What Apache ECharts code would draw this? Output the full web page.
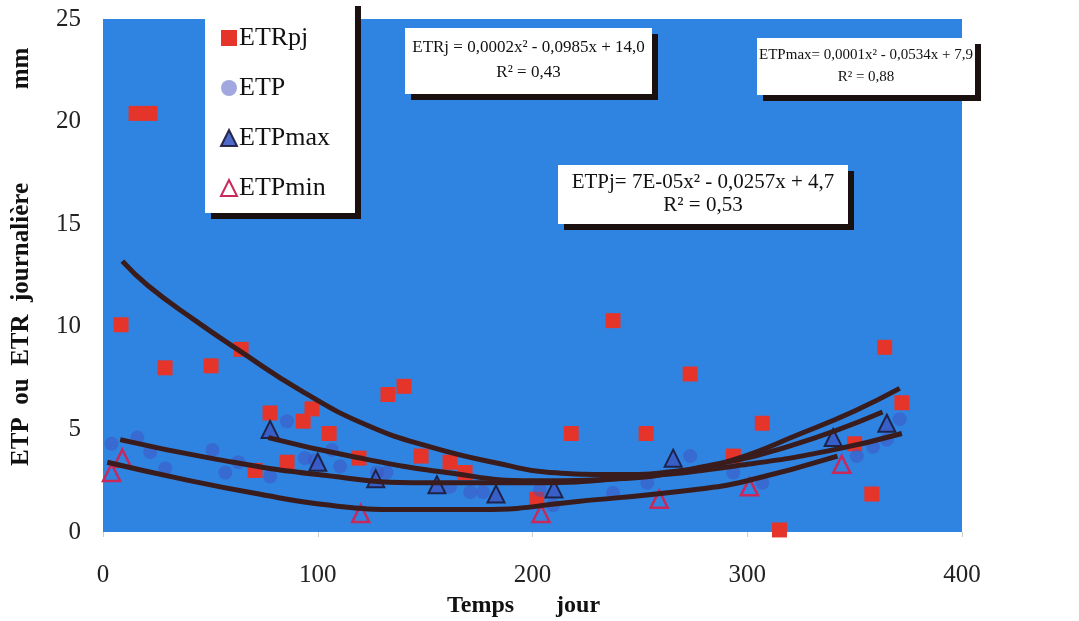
<!DOCTYPE html>
<html><head><meta charset="utf-8">
<script src="https://cdn.jsdelivr.net/npm/echarts@6/dist/echarts.min.js"></script>
<style>html,body{margin:0;padding:0;background:#fff}#c{width:1079px;height:621px}</style>
</head><body><div id="c"></div>
<script>
// ---- data (day of year, mm/day) ----
const xTicks = [0, 100, 200, 300, 400];
const yTicks = [0, 5, 10, 15, 20, 25];
const seriesNames = ['ETRpj', 'ETP', 'ETPmax', 'ETPmin'];
const etrpj = [[8.4,10.1],[15.4,20.4],[21.9,20.4],[28.9,8.0],[50.3,8.1],[64.3,8.9],[70.8,3.0],[77.8,5.8],[85.7,3.4],[93.2,5.4],[97.3,6.0],[105.3,4.8],[119.2,3.6],[132.7,6.7],[140.2,7.1],[148.1,3.7],[161.6,3.4],[168.6,2.9],[202,1.6],[218,4.8],[237.5,10.3],[252.9,4.8],[273.4,7.7],[293.5,3.7],[307,5.3],[315,0.1],[350,4.3],[358,1.85],[364,9.0],[372,6.3]];
const etp = [[4,4.3],[16,4.6],[22,3.9],[29,3.1],[51,4.0],[57,2.9],[63,3.4],[77.8,2.7],[85.7,5.4],[94,3.6],[98.7,3.5],[106.6,4.0],[110.4,3.2],[127.6,2.9],[132,2.9],[161.6,2.2],[171,1.95],[177,1.95],[203.5,2.05],[209.6,1.3],[237.5,1.9],[253.4,2.4],[273.4,3.7],[293.5,2.9],[307,2.4],[351,3.7],[358.6,4.15],[365,4.5],[371,5.5]];
const etpmax = [[77.8,5.0],[100,3.4],[127,2.6],[155.5,2.3],[183,1.85],[210,2.1],[265.5,3.6],[340,4.6],[365,5.3]];
const etpmin = [[4,2.9],[9,3.6],[120,0.9],[204,0.9],[259,1.6],[301,2.2],[344,3.3]];
// trend curves
const trendETR = [[9,13.2],[21,12.0],[43,10.3],[64,8.8],[92,6.9],[123,5.2],[154,4.1],[186,3.3],[208,2.9],[240,2.8],[270,3.0],[293,3.5],[325,4.8],[350,5.9],[371,7.0]];
const trendETP = [[8,4.5],[50,3.6],[100,2.8],[150,2.4],[200,2.4],[250,2.7],[300,3.3],[340,4.0],[372,4.8]];
const trendETPmax = [[77,4.6],[115,3.7],[160,2.9],[200,2.5],[240,2.6],[280,3.2],[320,4.2],[363,5.85]];
const trendETPmin = [[2,3.4],[36,2.6],[70,1.9],[106,1.3],[140,1.1],[176,1.1],[222,1.5],[278,2.1],[300,2.5],[342,3.7]];
const eqETR = ['ETRj = 0,0002x² - 0,0985x + 14,0', 'R² = 0,43'];
const eqETPmax = ['ETPmax= 0,0001x² - 0,0534x + 7,9', 'R² = 0,88'];
const eqETP = ['ETPj= 7E-05x² - 0,0257x + 4,7', 'R² = 0,53'];

const serif = '"Liberation Serif", "DejaVu Serif", serif';
const chart = echarts.init(document.getElementById('c'));

function trend(data) {
  return { type: 'line', data: data, smooth: true, showSymbol: false, symbol: 'none',
    lineStyle: { color: '#3a1c1c', width: 5 }, z: 5, silent: true, legendHoverLink: false, tooltip: {show:false} };
}
function box(x, y, w, h, lines, fs) {
  return { type: 'group', left: x, top: y, z: 100, children: [
    { type: 'rect', shape: { x: 0, y: 0, width: w, height: h },
      style: { fill: '#fff', shadowColor: '#1a1010', shadowOffsetX: 6, shadowOffsetY: 6, shadowBlur: 0 } },
    { type: 'text', x: w / 2, y: h * 0.3, style: { text: lines[0], font: fs + 'px ' + serif, fill: '#111', align: 'center', verticalAlign: 'middle' } },
    { type: 'text', x: w / 2, y: h * 0.68, style: { text: lines[1], font: fs + 'px ' + serif, fill: '#111', align: 'center', verticalAlign: 'middle' } }
  ]};
}

chart.setOption({
  animation: false,
  backgroundColor: '#fff',
  grid: { left: 103, right: 117, top: 19, bottom: 89, show: true, backgroundColor: '#2f84e2', borderWidth: 0,
    containLabel: false, outerBoundsMode: 'none' },
  xAxis: { type: 'value', min: xTicks[0], max: xTicks[xTicks.length - 1], interval: 100,
    axisLine: { show: false }, splitLine: { show: false },
    axisTick: { show: true, inside: false, length: 5, lineStyle: { color: '#ccc' } },
    axisLabel: { fontFamily: serif, fontSize: 25, color: '#222', margin: 31 },
    name: 'Temps       jour   ', nameLocation: 'middle', nameGap: 62,
    nameTextStyle: { fontFamily: serif, fontSize: 24, fontWeight: 'bold', color: '#111' } },
  yAxis: { type: 'value', min: yTicks[0], max: yTicks[yTicks.length - 1], interval: 5,
    axisLine: { show: false }, splitLine: { show: false }, axisTick: { show: false },
    axisLabel: { fontFamily: serif, fontSize: 25, color: '#222', margin: 22 },
    name: '      ETP  ou  ETR  journalière               mm', nameLocation: 'middle', nameGap: 69, nameRotate: 90,
    nameTextStyle: { fontFamily: serif, fontSize: 25, fontWeight: 'bold', color: '#111' } },
  legend: { orient: 'vertical', left: 205, top: 0, itemGap: 24, padding: [25, 25, 12, 15],
    backgroundColor: '#fff', shadowColor: '#1a1010', shadowOffsetX: 6, shadowOffsetY: 6, shadowBlur: 0,
    itemWidth: 16, itemHeight: 16, data: seriesNames,
    textStyle: { fontFamily: serif, fontSize: 26, lineHeight: 26, color: '#111', padding: [0, 0, 0, -3] } },
  graphic: [
    box(405, 28, 247, 66, eqETR, 17),
    box(757, 38, 218, 57, eqETPmax, 15),
    box(558, 165, 290, 59, eqETP, 21)
  ],
  series: [
    { name: seriesNames[0], type: 'scatter', data: etrpj, symbol: 'rect', symbolSize: 15, z: 3,
      itemStyle: { color: '#e5352b', opacity: 1 } },
    { name: seriesNames[1], type: 'scatter', data: etp, symbol: 'circle', symbolSize: 14, z: 3,
      itemStyle: { color: '#4152bf', opacity: 0.5 } },
    { name: seriesNames[2], type: 'scatter', data: etpmax, symbol: 'triangle', symbolSize: 17, z: 4,
      itemStyle: { color: '#3a5ac4', borderColor: '#1c1a3a', borderWidth: 2, opacity: 0.9 } },
    { name: seriesNames[3], type: 'scatter', data: etpmin, symbol: 'triangle', symbolSize: 17, z: 4,
      itemStyle: { color: 'rgba(255,255,255,0)', borderColor: '#c8285a', borderWidth: 2.5, opacity: 1 } },
    trend(trendETR), trend(trendETP), trend(trendETPmax), trend(trendETPmin)
  ]
});
</script></body></html>
